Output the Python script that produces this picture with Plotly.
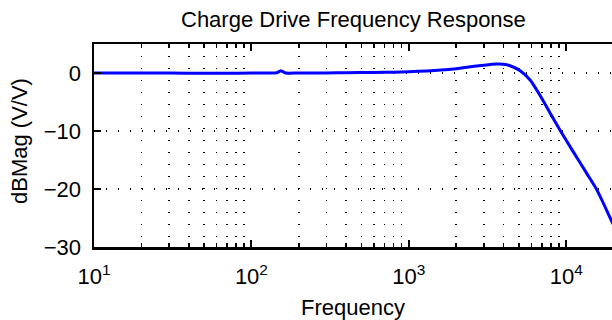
import plotly.graph_objects as go

# Data
freq_hz = [10, 20, 30, 50, 70, 100, 130, 145, 150, 154, 158, 165, 200, 300, 400,
           600, 800, 1000, 1300, 1600, 2000, 2600, 3000, 3600, 4000, 4400, 5100,
           5900, 6800, 7900, 9200, 11100, 13500, 15700, 19500, 20000]
mag_db = [0, 0, 0, -0.05, -0.05, 0, 0, 0.05, 0.25, 0.4, 0.25, 0, 0, 0.02, 0.05,
          0.1, 0.15, 0.22, 0.35, 0.5, 0.75, 1.15, 1.35, 1.55, 1.5, 1.25, 0.4,
          -1.2, -3.8, -6.9, -10.0, -13.6, -17.3, -20.2, -25.6, -26.2]

x_major_vals = [10, 100, 1000, 10000]
x_major_text = ["10<sup>1</sup>", "10<sup>2</sup>", "10<sup>3</sup>", "10<sup>4</sup>"]
x_minor_vals = [k * 10 ** d for d in range(1, 5) for k in range(2, 10)]
y_tick_vals = [0, -10, -20, -30]
y_tick_text = ["0", "\u221210", "\u221220", "\u221230"]

title_text = "Charge Drive Frequency Response"
x_title = "Frequency"
y_title = "dBMag (V/V)"

FONT = "Liberation Sans, Arial, Helvetica, sans-serif"
FS = 22

fig = go.Figure()
fig.add_trace(go.Scatter(
    x=freq_hz, y=mag_db, mode="lines",
    line=dict(color="#0000ff", width=3, shape="spline", smoothing=0.6),
    showlegend=False, hoverinfo="skip",
))

grid_dash = "1px,11px"

fig.update_layout(
    width=612, height=320,
    margin=dict(l=94, r=0, t=44, b=73),
    paper_bgcolor="white", plot_bgcolor="white",
    font=dict(family=FONT, size=FS, color="black"),
    xaxis=dict(
        type="log", range=[1, 4.291],
        tickmode="array", tickvals=x_major_vals, ticktext=x_major_text,
        ticks="inside", ticklen=7, tickwidth=2, tickcolor="black",
        showgrid=False, zeroline=False,
        showline=True, linewidth=2.5, linecolor="black", mirror="ticks",
        tickfont=dict(family=FONT, size=FS, color="black"),
        ticklabelstandoff=8,
        minor=dict(tickmode="array", tickvals=x_minor_vals, ticks="inside",
                   ticklen=4, tickwidth=1.5, tickcolor="black",
                   showgrid=True, gridcolor="black", gridwidth=1.5,
                   griddash=grid_dash),
    ),
    yaxis=dict(
        range=[-30, 5],
        tickmode="array", tickvals=y_tick_vals, ticktext=y_tick_text,
        ticks="inside", ticklen=7, tickwidth=2, tickcolor="black",
        showgrid=True, gridcolor="black", gridwidth=1.5, griddash=grid_dash,
        zeroline=False,
        showline=True, linewidth=2.5, linecolor="black", mirror=False,
        tickfont=dict(family=FONT, size=FS, color="black"),
        ticklabelstandoff=6,
    ),
    annotations=[
        dict(text=title_text, xref="paper", yref="paper", x=0.5, y=1,
             yshift=24.5, xanchor="center", yanchor="middle", showarrow=False,
             font=dict(family=FONT, size=FS, color="black")),
        dict(text=x_title, xref="paper", yref="paper", x=0.5, y=0,
             yshift=-60.5, xanchor="center", yanchor="middle", showarrow=False,
             font=dict(family=FONT, size=FS, color="black")),
        dict(text=y_title, xref="paper", yref="paper", x=0, y=0.5,
             xshift=-75, yshift=4.5, xanchor="center", yanchor="middle",
             textangle=-90, showarrow=False,
             font=dict(family=FONT, size=FS, color="black")),
    ],
)

body_fix = ("document.body.style.margin='0';"
            "document.body.style.overflow='hidden';"
            "document.documentElement.style.overflow='hidden';")

fig.write_html("out.html", post_script=body_fix,
               config={"displayModeBar": False, "staticPlot": True})
